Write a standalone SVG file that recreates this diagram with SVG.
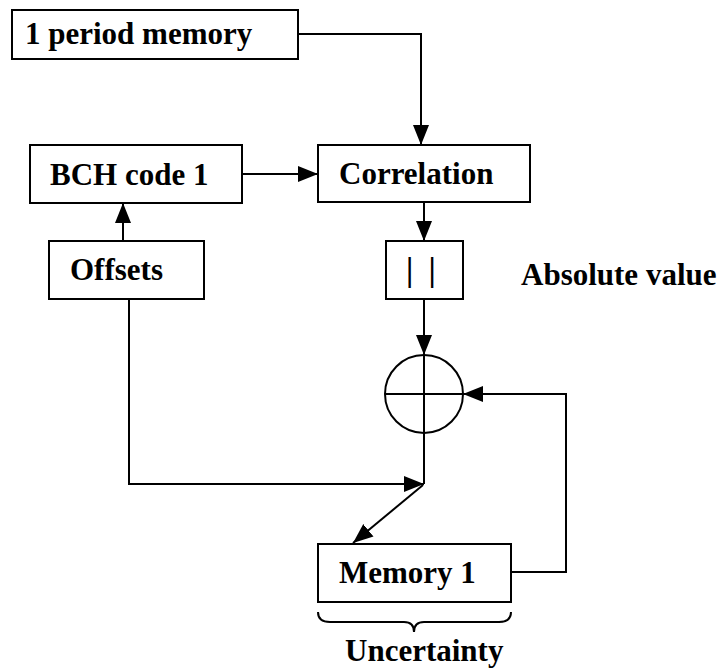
<svg xmlns="http://www.w3.org/2000/svg" width="724" height="668" viewBox="0 0 724 668">
<defs>
<marker id="ah" viewBox="0 0 20 16" refX="20" refY="8" markerWidth="20" markerHeight="17" markerUnits="userSpaceOnUse" orient="auto">
<path d="M0,0 L20,8 L0,16 Z" fill="#000"/>
</marker>
</defs>
<style>
.box{fill:#fff;stroke:#000;stroke-width:2}
.lbl{font-family:"Liberation Serif","Times New Roman",serif;font-weight:bold;font-size:31px;fill:#000}
.ln{fill:none;stroke:#000;stroke-width:2}
.arr{fill:none;stroke:#000;stroke-width:2;marker-end:url(#ah)}
</style>
<rect width="724" height="668" fill="#fff"/>
<g id="connectors">
<path class="arr" d="M298,34 H421 V145"/>
<path class="arr" d="M242,174 H318"/>
<path class="arr" d="M123,241 V203"/>
<path class="arr" d="M424,202 V241"/>
<path class="arr" d="M424,299 V355"/>
<path class="ln" d="M424,433 V484"/>
<path class="arr" d="M129,299 V484 H424"/>
<path class="arr" d="M423,485 L353,543"/>
<path class="arr" d="M511,572 H566 V394 H463"/>
</g>
<g id="period-memory">
<rect class="box" x="12" y="10" width="286" height="49"/>
<text class="lbl" x="25" y="44">1 period memory</text>
</g>
<g id="bch-code">
<rect class="box" x="30" y="145" width="212" height="58"/>
<text class="lbl" x="50" y="185">BCH code 1</text>
</g>
<g id="correlation">
<rect class="box" x="318" y="145" width="212" height="57"/>
<text class="lbl" x="339" y="184">Correlation</text>
</g>
<g id="offsets">
<rect class="box" x="49" y="241" width="155" height="58"/>
<text class="lbl" x="70" y="280">Offsets</text>
</g>
<g id="absolute">
<rect class="box" x="386" y="241" width="77" height="58"/>
<text x="421" y="281" text-anchor="middle" fill="#000" style="font-family:'Liberation Serif','Times New Roman',serif;font-weight:bold;font-size:33px;word-spacing:7px">| |</text>
</g>
<g id="absolute-label">
<text class="lbl" x="521" y="285">Absolute value</text>
</g>
<g id="adder">
<circle cx="424" cy="394" r="39" fill="#fff" stroke="#000" stroke-width="2"/>
<path class="ln" d="M385,394 H463 M424,355 V433"/>
</g>
<g id="memory1">
<rect class="box" x="318" y="544" width="193" height="58"/>
<text class="lbl" x="339" y="583">Memory 1</text>
</g>
<g id="uncertainty">
<path class="ln" d="M318,612 Q318,622 330,622 L404,622 Q414,622 414,632 Q414,622 424,622 L499,622 Q511,622 511,612"/>
<text class="lbl" x="345" y="661">Uncertainty</text>
</g>
</svg>
